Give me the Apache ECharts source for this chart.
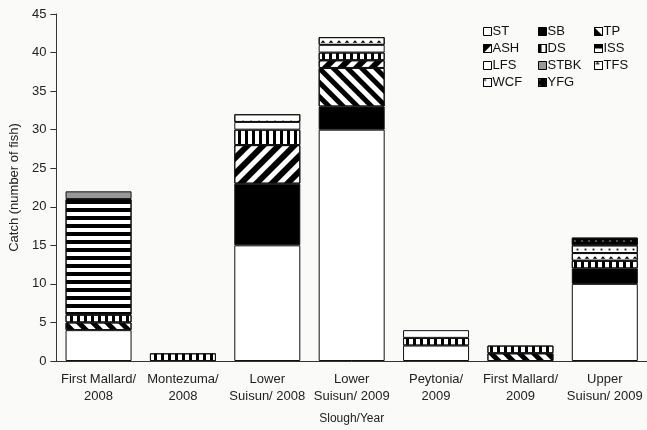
<!DOCTYPE html>
<html>
<head>
<meta charset="utf-8">
<script src="https://cdn.jsdelivr.net/npm/echarts@6/dist/echarts.min.js"></script>
<style>
  html, body { margin: 0; padding: 0; background: #fafaf8; }
  #main { width: 647px; height: 430px; }
</style>
</head>
<body>
<div id="main"></div>
<script>
var sites = ['First Mallard/\n2008', 'Montezuma/\n2008', 'Lower\nSuisun/ 2008', 'Lower\nSuisun/ 2009',
    'Peytonia/\n2009', 'First Mallard/\n2009', 'Upper\nSuisun/ 2009'];

// catch per species, one value per slough/year
var ST   = [4, 0, 15, 30, 2, 0, 10];
var SB   = [0, 0, 8, 3, 0, 0, 2];
var TP   = [1, 0, 0, 5, 0, 1, 0];
var ASH  = [0, 0, 5, 1, 0, 0, 0];
var DS   = [1, 1, 2, 1, 1, 1, 1];
var ISS  = [15, 0, 0, 0, 0, 0, 0];
var LFS  = [0, 0, 1, 1, 1, 0, 0];
var STBK = [1, 0, 0, 0, 0, 0, 0];
var TFS  = [0, 0, 1, 1, 0, 0, 1];
var WCF  = [0, 0, 0, 0, 0, 0, 1];
var YFG  = [0, 0, 0, 0, 0, 0, 1];

var yTicks = [0, 5, 10, 15, 20, 25, 30, 35, 40, 45];

var font = 'Liberation Sans, Arial, sans-serif';

// fill + pattern per species
var styles = {
    ST:   { color: '#fff' },
    SB:   { color: '#000' },
    TP:   { color: '#fff', decal: { symbol: 'rect', color: '#000', dashArrayX: [1, 0], dashArrayY: [5, 5], rotation: Math.PI / 4 } },
    ASH:  { color: '#fff', decal: { symbol: 'rect', color: '#000', dashArrayX: [1, 0], dashArrayY: [6, 5], rotation: -Math.PI / 4 } },
    DS:   { color: '#fff', decal: { symbol: 'rect', color: '#000', dashArrayX: [3, 4], dashArrayY: [1, 0] } },
    ISS:  { color: '#fff', decal: { symbol: 'rect', color: '#000', dashArrayX: [1, 0], dashArrayY: [4, 4] } },
    LFS:  { color: '#fff' },
    STBK: { color: '#999' },
    TFS:  { color: '#fff', decal: { symbol: 'triangle', symbolSize: 0.8, color: '#000', dashArrayX: [6, 2], dashArrayY: [3, 5] } },
    WCF:  { color: '#fff', decal: { symbol: 'rect', symbolSize: 0.6, color: '#000', dashArrayX: [3, 5], dashArrayY: [3, 5] } },
    YFG:  { color: '#000', decal: { symbol: 'rect', symbolSize: 0.6, color: '#fff', dashArrayX: [2, 5], dashArrayY: [2, 4] } }
};

var speciesData = { ST: ST, SB: SB, TP: TP, ASH: ASH, DS: DS, ISS: ISS, LFS: LFS, STBK: STBK, TFS: TFS, WCF: WCF, YFG: YFG };

var series = Object.keys(speciesData).map(function (name) {
    var s = styles[name];
    return {
        name: name,
        type: 'bar',
        stack: 'catch',
        barWidth: 66,
        data: speciesData[name].map(function (v) { return v || null; }),
        itemStyle: {
            color: s.color,
            decal: s.decal,
            borderColor: '#111',
            borderWidth: 1
        }
    };
});

function legendCol(names, left) {
    return {
        orient: 'vertical',
        left: left,
        top: 25,
        padding: 0,
        itemWidth: 8,
        itemHeight: 8,
        itemGap: 4,
        icon: 'rect',
        data: names,
        selectedMode: false,
        itemStyle: { borderColor: '#000', borderWidth: 1 },
        textStyle: { fontFamily: font, fontSize: 13, color: '#111', padding: [0, 0, 0, -4] }
    };
}

var chart = echarts.init(document.getElementById('main'));
chart.setOption({
    backgroundColor: '#fafaf8',
    animation: false,
    grid: { left: 52, right: 0, top: 14, bottom: 67 },
    legend: [
        legendCol(['ST', 'ASH', 'LFS', 'WCF'], 483),
        legendCol(['SB', 'DS', 'STBK', 'YFG'], 538),
        legendCol(['TP', 'ISS', 'TFS'], 594)
    ],
    xAxis: {
        type: 'category',
        data: sites,
        name: 'Slough/Year',
        nameLocation: 'middle',
        nameGap: 52,
        nameTextStyle: { fontFamily: font, fontSize: 12, color: '#222' },
        axisLine: { lineStyle: { color: '#333', width: 1 } },
        axisTick: { length: 5, lineStyle: { color: '#333' } },
        axisLabel: { fontFamily: font, fontSize: 13, color: '#222', lineHeight: 17, margin: 10, interval: 0 }
    },
    yAxis: {
        type: 'value',
        min: yTicks[0],
        max: yTicks[yTicks.length - 1],
        interval: 5,
        name: 'Catch (number of fish)',
        nameLocation: 'middle',
        nameGap: 35,
        nameTextStyle: { fontFamily: font, fontSize: 13, color: '#222' },
        axisLine: { show: true, lineStyle: { color: '#333', width: 1 } },
        axisTick: { show: true, length: 6, lineStyle: { color: '#333' } },
        axisLabel: { fontFamily: font, fontSize: 13, color: '#222', margin: 10 },
        splitLine: { show: false }
    },
    series: series
});
</script>
</body>
</html>
